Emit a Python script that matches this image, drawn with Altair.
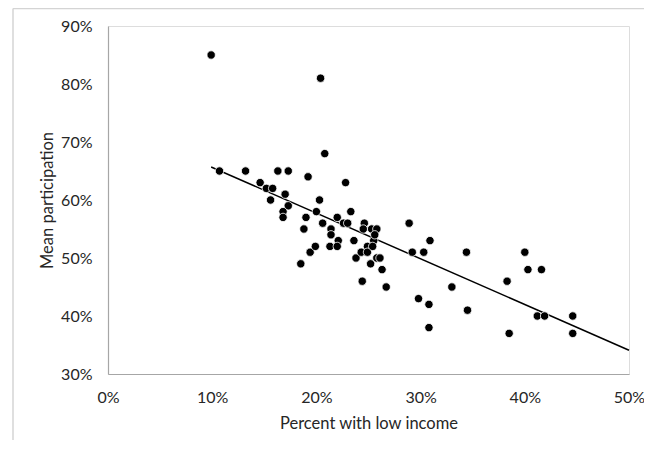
import altair as alt
import pandas as pd

# Scatter data: percent with low income (x) and mean participation (y), in percent
low_income = [9.9, 10.7, 13.2, 14.6, 15.2, 15.8, 15.6, 16.3, 17.3, 17.0,
              17.3, 16.8, 16.8, 19.2, 19.0, 18.8, 18.5, 19.4, 19.9, 20.0,
              20.3, 20.4, 20.6, 20.8, 21.4, 21.4, 21.3, 22.0, 22.1, 22.0,
              22.8, 22.6, 23.0, 23.3, 23.6, 23.8, 24.3, 24.4, 24.6, 24.5,
              24.9, 24.9, 25.2, 25.3, 25.8, 25.5, 25.6, 25.4, 25.8, 26.1,
              26.3, 26.7, 28.9, 29.2, 29.8, 30.3, 30.8, 30.9, 30.8, 33.0,
              34.4, 34.5, 38.3, 38.5, 40.0, 40.3, 41.2, 41.6, 41.9, 44.6,
              44.6]
participation = [85, 65, 65, 63, 62, 62, 60, 65, 65, 61,
                 59, 58, 57, 64, 57, 55, 49, 51, 52, 58,
                 60, 81, 56, 68, 55, 54, 52, 57, 53, 52,
                 63, 56, 56, 58, 53, 50, 51, 46, 56, 55,
                 52, 51, 49, 55, 55, 53, 54, 52, 50, 50,
                 48, 45, 56, 51, 43, 51, 42, 53, 38, 45,
                 51, 41, 46, 37, 51, 48, 40, 48, 40, 40,
                 37]

# Trendline endpoints
trend_x = [9.9, 50.0]
trend_y = [65.7, 34.1]

x_ticks = [0, 10, 20, 30, 40, 50]
y_ticks = [30, 40, 50, 60, 70, 80, 90]

FONT = "Lato"
TEXT = "#262626"

pts = pd.DataFrame({"x": low_income, "y": participation})
trend = pd.DataFrame({"x": trend_x, "y": trend_y})

xscale = alt.Scale(domain=[0, 50], nice=False, zero=False)
yscale = alt.Scale(domain=[30, 90], nice=False, zero=False)

xaxis = alt.Axis(values=x_ticks, labelExpr="datum.value + '%'", grid=False,
                 ticks=False, tickSize=0, domainColor="#a6a6a6", domainWidth=1.2,
                 labelFontSize=16, labelFont=FONT, labelColor=TEXT,
                 labelPadding=15, title="Percent with low income",
                 titleFont=FONT, titleFontSize=16.5, titleFontWeight="normal",
                 titleColor=TEXT, titlePadding=10, labelFlush=False)
yaxis = alt.Axis(values=y_ticks, labelExpr="datum.value + '%'", grid=False,
                 ticks=False, tickSize=0, domainColor="#a6a6a6", domainWidth=1.2,
                 labelFontSize=16, labelFont=FONT, labelColor=TEXT,
                 labelPadding=16, title="Mean participation",
                 titleFont=FONT, titleFontSize=16.5, titleFontWeight="normal",
                 titleColor=TEXT, titlePadding=5, labelFlush=False)

points = alt.Chart(pts).mark_circle(size=70, color="black", opacity=1,
                                    stroke="#ffffff", strokeWidth=0.8).encode(
    x=alt.X("x:Q", scale=xscale, axis=xaxis),
    y=alt.Y("y:Q", scale=yscale, axis=yaxis),
)

line = alt.Chart(trend).mark_line(color="black", strokeWidth=1.5).encode(
    x=alt.X("x:Q", scale=xscale),
    y=alt.Y("y:Q", scale=yscale),
)

frame_left = alt.Chart(pd.DataFrame({"a": [0]})).mark_rule(
    color="#d4d4d4", strokeWidth=1.5).encode(
    x=alt.value(-95), y=alt.value(-17.5), y2=alt.value(420))
frame_top = alt.Chart(pd.DataFrame({"a": [0]})).mark_rule(
    color="#d4d4d4", strokeWidth=1.5).encode(
    x=alt.value(-95), x2=alt.value(640), y=alt.value(-17.5))

chart = alt.layer(frame_left, frame_top, line, points).properties(
    width=521, height=348,
    autosize=alt.AutoSizeParams(type="none"),
    padding={"left": 100, "top": 18, "right": 15, "bottom": 66},
).configure_view(stroke=None).configure(background="white")

chart.save("out.html", embed_options={"renderer": "svg", "actions": False})
